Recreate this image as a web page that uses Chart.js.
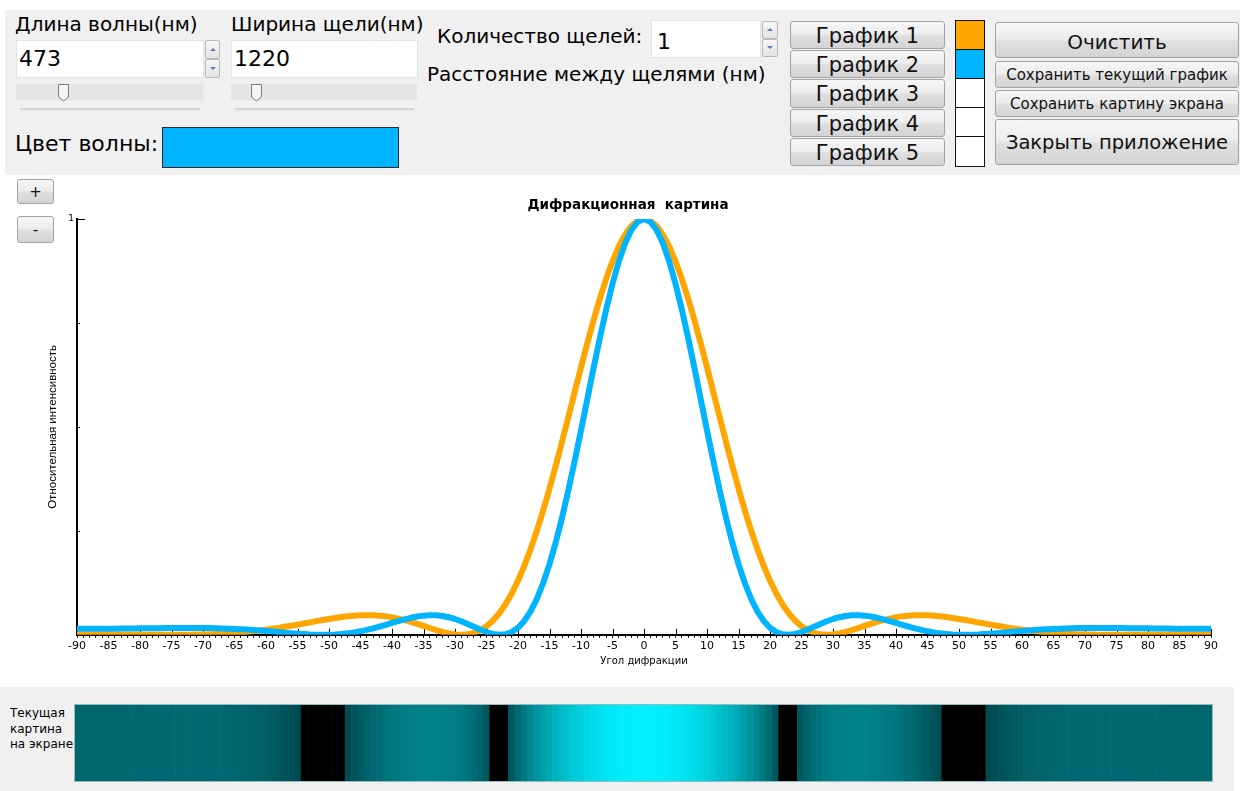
<!DOCTYPE html>
<html><head><meta charset="utf-8">
<script src="https://cdn.jsdelivr.net/npm/chart.js@4.4.1/dist/chart.umd.min.js"></script>
<style>
body{margin:0;width:1241px;height:791px;position:relative;overflow:hidden;background:#fff;font-family:"DejaVu Sans",sans-serif;color:#000}
.abs{position:absolute}
.panel{position:absolute;background:#f0f0f0}
.lbl{position:absolute;white-space:nowrap}
.inp{position:absolute;background:#fff;border:1px solid #e2e3e6;box-sizing:border-box;font-size:22px;padding-left:2px;white-space:nowrap}
.btn{position:absolute;box-sizing:border-box;border:1px solid #a3a3a3;border-radius:3px;background:linear-gradient(#f6f6f6,#ededed 45%,#dfdfdf 55%,#d4d4d4);text-align:center;white-space:nowrap;color:#111}
.spin{position:absolute}
.sb{position:absolute;left:0;width:100%;box-sizing:border-box;border:1px solid #b9b9b9;border-radius:2px;background:linear-gradient(#f7f7f7,#e4e4e4)}
.up,.dn{position:absolute;left:50%;top:50%;width:0;height:0;margin-left:-3px;margin-top:-2px;border-left:3px solid transparent;border-right:3px solid transparent}
.up{border-bottom:3px solid #5b78ad}
.dn{border-top:3px solid #5b78ad}
.track{position:absolute;background:#e6e6e6;border:1px solid #ececec;box-sizing:border-box}
.groove{position:absolute;height:2px;background:#d6d6d6;border-bottom:1px solid #e9e9e9}
.thumb{position:absolute;width:13px;height:19px}
.sw{position:absolute;left:0;width:100%;box-sizing:border-box}
</style>
</head><body>
<!-- top control panel -->
<div class="panel" style="left:5px;top:10px;width:1235px;height:165px"></div>
<div class="lbl" style="left:15px;top:14px;font-size:20px;line-height:20px">Длина волны(нм)</div>
<div class="lbl" style="left:231px;top:14px;font-size:20px;line-height:20px">Ширина щели(нм)</div>
<div class="inp" style="left:16px;top:40px;width:188px;height:38px;line-height:35px">473</div>
<div class="spin" style="left:205px;top:40px;width:15px;height:38px">
  <div class="sb" style="top:0;height:19px"><i class="up"></i></div>
  <div class="sb" style="top:19px;height:19px"><i class="dn"></i></div>
</div>
<div class="inp" style="left:231px;top:40px;width:187px;height:38px;line-height:35px">1220</div>
<div class="track" style="left:15px;top:83px;width:189px;height:18px"></div>
<svg class="thumb" style="left:57px;top:83px" viewBox="0 0 13 19"><path d="M1.5 1.5 H11.5 V14 L6.5 18 L1.5 14 Z" fill="#f4f4f4" stroke="#7a7a7a" stroke-width="1"/></svg>
<div class="groove" style="left:20px;top:108px;width:180px"></div>
<div class="track" style="left:230px;top:83px;width:188px;height:18px"></div>
<svg class="thumb" style="left:250px;top:83px" viewBox="0 0 13 19"><path d="M1.5 1.5 H11.5 V14 L6.5 18 L1.5 14 Z" fill="#f4f4f4" stroke="#7a7a7a" stroke-width="1"/></svg>
<div class="groove" style="left:235px;top:108px;width:179px"></div>
<div class="lbl" style="left:15px;top:133px;font-size:22px;line-height:22px">Цвет волны:</div>
<div class="abs" style="left:162px;top:127px;width:237px;height:41px;box-sizing:border-box;border:1px solid #2a2a2a;background:#00b4ff"></div>

<div class="lbl" style="left:437px;top:26px;font-size:20px;line-height:20px">Количество щелей:</div>
<div class="inp" style="left:651px;top:20px;width:110px;height:38px;line-height:41px;padding-left:5px">1</div>
<div class="spin" style="left:762px;top:21px;width:16px;height:37px">
  <div class="sb" style="top:0;height:18px"><i class="up"></i></div>
  <div class="sb" style="top:18px;height:18px"><i class="dn"></i></div>
</div>
<div class="lbl" style="left:427px;top:64px;font-size:20px;line-height:20px">Расстояние между щелями (нм)</div>

<div class="btn" style="left:790px;top:21px;width:155px;height:28px;font-size:21px;line-height:28px">График 1</div>
<div class="btn" style="left:790px;top:50px;width:155px;height:28px;font-size:21px;line-height:28px">График 2</div>
<div class="btn" style="left:790px;top:79px;width:155px;height:29px;font-size:21px;line-height:29px">График 3</div>
<div class="btn" style="left:790px;top:109px;width:155px;height:28px;font-size:21px;line-height:28px">График 4</div>
<div class="btn" style="left:790px;top:138px;width:155px;height:28px;font-size:21px;line-height:28px">График 5</div>

<div class="abs" style="left:955px;top:20px;width:30px;height:147px;border:1px solid #111;box-sizing:border-box;background:#111">
  <div class="sw" style="top:0;height:28px;background:#ffa500"></div>
  <div class="sw" style="top:29px;height:28px;background:#00b4ff"></div>
  <div class="sw" style="top:58px;height:28px;background:#fff"></div>
  <div class="sw" style="top:87px;height:28px;background:#fff"></div>
  <div class="sw" style="top:116px;height:29px;background:#fff"></div>
</div>

<div class="btn" style="left:995px;top:22px;width:244px;height:36px;font-size:20px;line-height:38px">Очистить</div>
<div class="btn" style="left:995px;top:61px;width:244px;height:27px;font-size:15px;line-height:27px">Сохранить текущий график</div>
<div class="btn" style="left:995px;top:90px;width:244px;height:27px;font-size:15px;line-height:27px">Сохранить картину экрана</div>
<div class="btn" style="left:995px;top:119px;width:244px;height:46px;font-size:19.5px;line-height:46px">Закрыть приложение</div>

<!-- zoom buttons -->
<div class="btn" style="left:17px;top:179px;width:37px;height:25px;font-size:15px;line-height:25px">+</div>
<div class="btn" style="left:17px;top:216px;width:37px;height:27px;font-size:15px;line-height:27px">-</div>

<!-- main chart -->
<canvas id="main" class="abs" width="1241" height="511" style="left:0;top:176px"></canvas>

<!-- bottom screen panel -->
<div class="panel" style="left:0;top:687px;width:1234px;height:104px"></div>
<div class="lbl" style="left:10px;top:706px;font-size:12px;line-height:15.5px">Текущая<br>картина<br>на экране</div>
<div class="abs" style="left:74px;top:704px;width:1139px;height:78px;box-sizing:border-box;border:1px solid #8fbcc0">
  <canvas id="strip" width="1137" height="76" style="display:block"></canvas>
</div>

<script>
// ---------- data ----------
const angles = [-90,-89,-88,-87,-86,-85,-84,-83,-82,-81,-80,-79,-78,-77,-76,-75,-74,-73,-72,-71,-70,-69,-68,-67,-66,-65,-64,-63,-62,-61,-60,-59,-58,-57,-56,-55,-54,-53,-52,-51,-50,-49,-48,-47,-46,-45,-44,-43,-42,-41,-40,-39,-38,-37,-36,-35,-34,-33,-32,-31,-30,-29,-28,-27,-26,-25,-24,-23,-22,-21,-20,-19,-18,-17,-16,-15,-14,-13,-12,-11,-10,-9,-8,-7,-6,-5,-4,-3,-2,-1,0,1,2,3,4,5,6,7,8,9,10,11,12,13,14,15,16,17,18,19,20,21,22,23,24,25,26,27,28,29,30,31,32,33,34,35,36,37,38,39,40,41,42,43,44,45,46,47,48,49,50,51,52,53,54,55,56,57,58,59,60,61,62,63,64,65,66,67,68,69,70,71,72,73,74,75,76,77,78,79,80,81,82,83,84,85,86,87,88,89,90];

// График 1 (orange)
const orangeIntensity = [
0.0009,0.0009,0.0009,0.0008,0.0008,0.0007,0.0006,0.0005,0.0004,0.0003,
0.0002,0.0001,0.0001,0.0000,0.0000,0.0000,0.0001,0.0002,0.0004,0.0007,
0.0010,0.0015,0.0021,0.0028,0.0037,0.0047,0.0058,0.0072,0.0087,0.0105,
0.0124,0.0145,0.0167,0.0192,0.0217,0.0244,0.0272,0.0300,0.0328,0.0355,
0.0381,0.0406,0.0427,0.0445,0.0459,0.0468,0.0472,0.0469,0.0460,0.0444,
0.0420,0.0390,0.0353,0.0310,0.0263,0.0213,0.0163,0.0114,0.0070,0.0034,
0.0009,0.0000,0.0011,0.0046,0.0110,0.0206,0.0340,0.0513,0.0730,0.0992,
0.1302,0.1658,0.2060,0.2507,0.2994,0.3518,0.4072,0.4649,0.5241,0.5839,
0.6433,0.7013,0.7568,0.8088,0.8562,0.8982,0.9338,0.9623,0.9831,0.9957,
1.0000,
0.9957,0.9831,0.9623,0.9338,0.8982,0.8562,0.8088,0.7568,0.7013,0.6433,
0.5839,0.5241,0.4649,0.4072,0.3518,0.2994,0.2507,0.2060,0.1658,0.1302,
0.0992,0.0730,0.0513,0.0340,0.0206,0.0110,0.0046,0.0011,0.0000,0.0009,
0.0034,0.0070,0.0114,0.0163,0.0213,0.0263,0.0310,0.0353,0.0390,0.0420,
0.0444,0.0460,0.0469,0.0472,0.0468,0.0459,0.0445,0.0427,0.0406,0.0381,
0.0355,0.0328,0.0300,0.0272,0.0244,0.0217,0.0192,0.0167,0.0145,0.0124,
0.0105,0.0087,0.0072,0.0058,0.0047,0.0037,0.0028,0.0021,0.0015,0.0010,
0.0007,0.0004,0.0002,0.0001,0.0000,0.0000,0.0000,0.0001,0.0001,0.0002,
0.0003,0.0004,0.0005,0.0006,0.0007,0.0008,0.0008,0.0009,0.0009,0.0009];

// График 2 (blue, current)
const blueIntensity = [
0.0143,0.0143,0.0144,0.0144,0.0145,0.0146,0.0148,0.0149,0.0151,0.0153,
0.0155,0.0157,0.0158,0.0160,0.0162,0.0163,0.0164,0.0165,0.0165,0.0164,
0.0163,0.0161,0.0157,0.0153,0.0148,0.0141,0.0134,0.0125,0.0114,0.0103,
0.0091,0.0079,0.0065,0.0052,0.0039,0.0027,0.0017,0.0008,0.0003,0.0000,
0.0002,0.0007,0.0018,0.0035,0.0057,0.0084,0.0117,0.0154,0.0196,0.0240,
0.0285,0.0330,0.0372,0.0409,0.0440,0.0461,0.0471,0.0469,0.0453,0.0423,
0.0380,0.0325,0.0262,0.0193,0.0126,0.0067,0.0022,0.0001,0.0012,0.0066,
0.0170,0.0334,0.0565,0.0867,0.1246,0.1700,0.2227,0.2823,0.3478,0.4181,
0.4917,0.5669,0.6418,0.7144,0.7826,0.8444,0.8979,0.9415,0.9736,0.9934,
1.0000,
0.9934,0.9736,0.9415,0.8979,0.8444,0.7826,0.7144,0.6418,0.5669,0.4917,
0.4181,0.3478,0.2823,0.2227,0.1700,0.1246,0.0867,0.0565,0.0334,0.0170,
0.0066,0.0012,0.0001,0.0022,0.0067,0.0126,0.0193,0.0262,0.0325,0.0380,
0.0423,0.0453,0.0469,0.0471,0.0461,0.0440,0.0409,0.0372,0.0330,0.0285,
0.0240,0.0196,0.0154,0.0117,0.0084,0.0057,0.0035,0.0018,0.0007,0.0002,
0.0000,0.0003,0.0008,0.0017,0.0027,0.0039,0.0052,0.0065,0.0079,0.0091,
0.0103,0.0114,0.0125,0.0134,0.0141,0.0148,0.0153,0.0157,0.0161,0.0163,
0.0164,0.0165,0.0165,0.0164,0.0163,0.0162,0.0160,0.0158,0.0157,0.0155,
0.0153,0.0151,0.0149,0.0148,0.0146,0.0145,0.0144,0.0144,0.0143,0.0143];

const xTickLabels = [-90,-85,-80,-75,-70,-65,-60,-55,-50,-45,-40,-35,-30,-25,-20,-15,-10,-5,0,5,10,15,20,25,30,35,40,45,50,55,60,65,70,75,80,85,90];
const yTickValues = [0.25,0.5,0.75,1];
const yTickLabels = ['','','','1'];
const seriesNames = ['График 1','График 2'];
const seriesColors = ['#ffa500','#00b4ff'];

// ---------- charts ----------
Chart.defaults.font.family = "'DejaVu Sans', sans-serif";
Chart.defaults.color = '#000';

const innerTicks = {
  id: 'innerTicks',
  beforeDatasetsDraw(chart) {
    const {ctx, scales: {x, y}, chartArea: a} = chart;
    ctx.save();
    ctx.strokeStyle = '#000';
    ctx.lineWidth = 1;
    ctx.beginPath();
    xTickLabels.forEach(v => {
      const px = Math.round(x.getPixelForValue(v)) + 0.5;
      ctx.moveTo(px, a.bottom);
      ctx.lineTo(px, a.bottom - 6);
    });
    yTickValues.forEach(v => {
      const py = Math.round(y.getPixelForValue(v)) + 0.5;
      ctx.moveTo(a.left, py);
      ctx.lineTo(a.left + (v === 1 ? 8 : 3), py);
    });
    ctx.stroke();
    ctx.restore();
  }
};

new Chart(document.getElementById('main'), {
  type: 'line',
  data: {
    datasets: [
      {label: seriesNames[0], data: angles.map((a, i) => ({x: a, y: orangeIntensity[i]})),
       borderColor: seriesColors[0], borderWidth: 6, pointRadius: 0, fill: false, order: 2, borderJoinStyle: 'round'},
      {label: seriesNames[1], data: angles.map((a, i) => ({x: a, y: blueIntensity[i]})),
       borderColor: seriesColors[1], borderWidth: 6, pointRadius: 0, fill: false, order: 1, borderJoinStyle: 'round'}
    ]
  },
  options: {
    responsive: false, animation: false, devicePixelRatio: 1,
    layout: {padding: {left: 45, right: 30, top: 20, bottom: 20}},
    plugins: {
      legend: {display: false},
      tooltip: {enabled: false},
      title: {display: true, text: 'Дифракционная  картина', color: '#000',
              font: {size: 13.5, weight: 'bold'}, padding: {top: 1, bottom: 5.8}}
    },
    scales: {
      x: {
        type: 'linear', min: -90, max: 90,
        afterBuildTicks: s => { s.ticks = angles.map(v => ({value: v})); },
        ticks: {autoSkip: false, maxRotation: 0, minRotation: 0, padding: 2, color: '#000', font: {size: 11},
                callback: v => xTickLabels.includes(v) ? String(v) : ''},
        grid: {drawOnChartArea: false, drawTicks: true, tickLength: 3, color: '#000'},
        border: {color: '#000', width: 2},
        title: {display: true, text: 'Угол дифракции', color: '#000', font: {size: 10}, padding: {top: 0, bottom: 0}}
      },
      y: {
        min: 0, max: 1,
        afterFit: s => { s.width = 32; },
        afterBuildTicks: s => { s.ticks = yTickValues.map(v => ({value: v})); },
        ticks: {padding: 3, color: '#000', font: {size: 9},
                callback: v => yTickLabels[yTickValues.indexOf(v)] ?? ''},
        grid: {drawOnChartArea: false, drawTicks: false},
        border: {color: '#000', width: 2},
        title: {display: true, text: 'Относительная интенсивность', color: '#000',
                font: {family: "'Liberation Sans', sans-serif", size: 11.5}, padding: {top: 1, bottom: 0}}
      }
    }
  },
  plugins: [innerTicks]
});

// screen picture: colour of each angle from the current (blue) intensity
function screenColor(I) {
  if (I < 0.0025) return '#000';
  const f = Math.pow(I, 0.2);
  return 'rgb(0,' + Math.round(240 * f) + ',' + Math.round(255 * f) + ')';
}

new Chart(document.getElementById('strip'), {
  type: 'bar',
  data: {
    datasets: [{
      label: seriesNames[1],
      data: angles.map(a => ({x: a, y: 1})),
      backgroundColor: blueIntensity.map(screenColor),
      borderWidth: 0, barPercentage: 1, categoryPercentage: 1
    }]
  },
  options: {
    responsive: false, animation: false, devicePixelRatio: 1,
    layout: {padding: 0},
    plugins: {legend: {display: false}, tooltip: {enabled: false}},
    scales: {
      x: {type: 'linear', min: -90.5, max: 90.5, offset: false, display: false},
      y: {min: 0, max: 1, display: false}
    }
  }
});
</script>
</body></html>
